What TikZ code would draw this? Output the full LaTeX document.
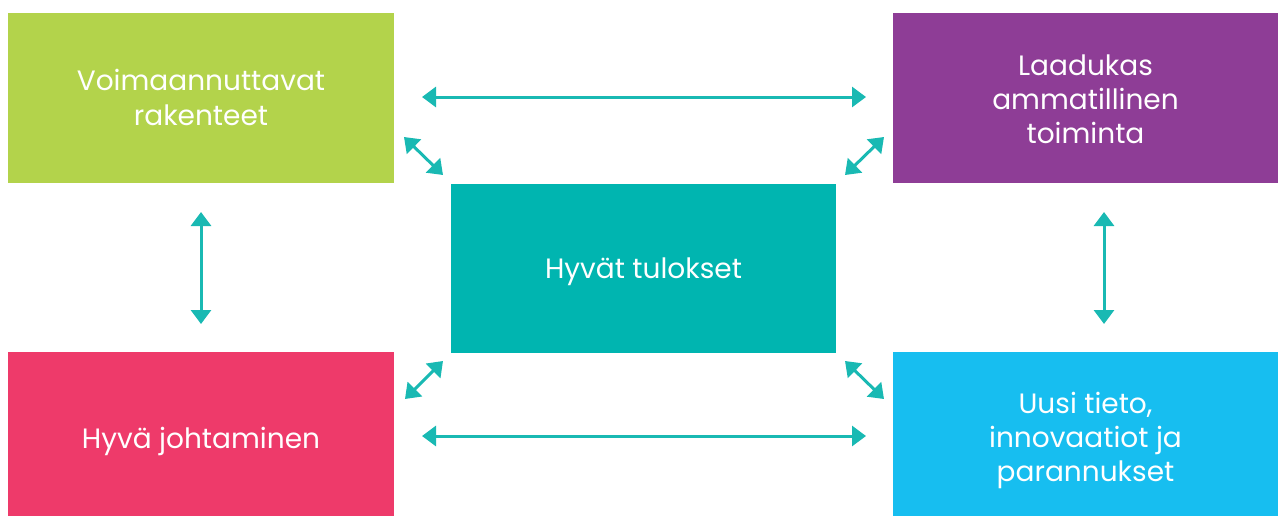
\documentclass[tikz,border=0pt]{standalone}
\usepackage{fontspec}
\setmainfont{Poppins}
\usetikzlibrary{arrows.meta}
\definecolor{cgreen}{HTML}{B3D34B}
\definecolor{cpurple}{HTML}{8E3D96}
\definecolor{cteal}{HTML}{00B5B0}
\definecolor{cpink}{HTML}{EE3A6A}
\definecolor{ccyan}{HTML}{17BEF0}
\definecolor{carrow}{HTML}{19B9B3}
\newcommand{\lowertext}[2]{\raisebox{-#1}[\height][\depth]{#2}}
\tikzset{
  box/.style={draw=none, inner sep=0pt, text=white, align=center,
    font=\fontsize{28}{34}\selectfont},
  link/.style={draw=carrow, line width=3pt,
    {Triangle[length=14pt,width=20pt]}-{Triangle[length=14pt,width=20pt]}}
}
\begin{document}
\begin{tikzpicture}[x=1pt,y=-1pt]
\useasboundingbox (0,0) rectangle (1279,517);
\node[box, fill=cgreen, minimum width=386pt, minimum height=170pt] (g) at (201,98) {\lowertext{3pt}{\begin{tabular}{@{}c@{}}Voimaannuttavat\\[1pt]rakenteet\end{tabular}}};
\node[box, fill=cpurple, minimum width=385pt, minimum height=170pt] (p) at (1085.5,98) {\lowertext{4.5pt}{\begin{tabular}{@{}c@{}}Laadukas\\ammatillinen\\toiminta\end{tabular}}};
\node[box, fill=cteal, minimum width=385pt, minimum height=169pt] (t) at (643.5,268.5) {\lowertext{3pt}{Hyvät tulokset}};
\node[box, fill=cpink, minimum width=386pt, minimum height=164pt] (r) at (201,434) {\lowertext{7pt}{Hyvä johtaminen}};
\node[box, fill=ccyan, minimum width=385pt, minimum height=164pt] (c) at (1085.5,434) {\lowertext{7pt}{\begin{tabular}{@{}c@{}}Uusi tieto,\\innovaatiot ja\\parannukset\end{tabular}}};
\coordinate (gp) at (422,97);
\coordinate (pg) at (866,97);
\coordinate (rc) at (422,436);
\coordinate (cr) at (866,436);
\coordinate (gr) at (201,212);
\coordinate (rg) at (201,324);
\coordinate (pc) at (1104,212);
\coordinate (cp) at (1104,324);
\coordinate (gt1) at (404,137);
\coordinate (gt2) at (443,175);
\coordinate (pt1) at (884,137);
\coordinate (pt2) at (845,175);
\coordinate (rt1) at (405,399);
\coordinate (rt2) at (443,361);
\coordinate (ct1) at (884,399);
\coordinate (ct2) at (845,361);
\draw[link] (gp) -- (pg);
\draw[link] (rc) -- (cr);
\draw[link] (gr) -- (rg);
\draw[link] (pc) -- (cp);
\draw[link] (gt1) -- (gt2);
\draw[link] (pt1) -- (pt2);
\draw[link] (rt1) -- (rt2);
\draw[link] (ct1) -- (ct2);
\end{tikzpicture}
\end{document}
